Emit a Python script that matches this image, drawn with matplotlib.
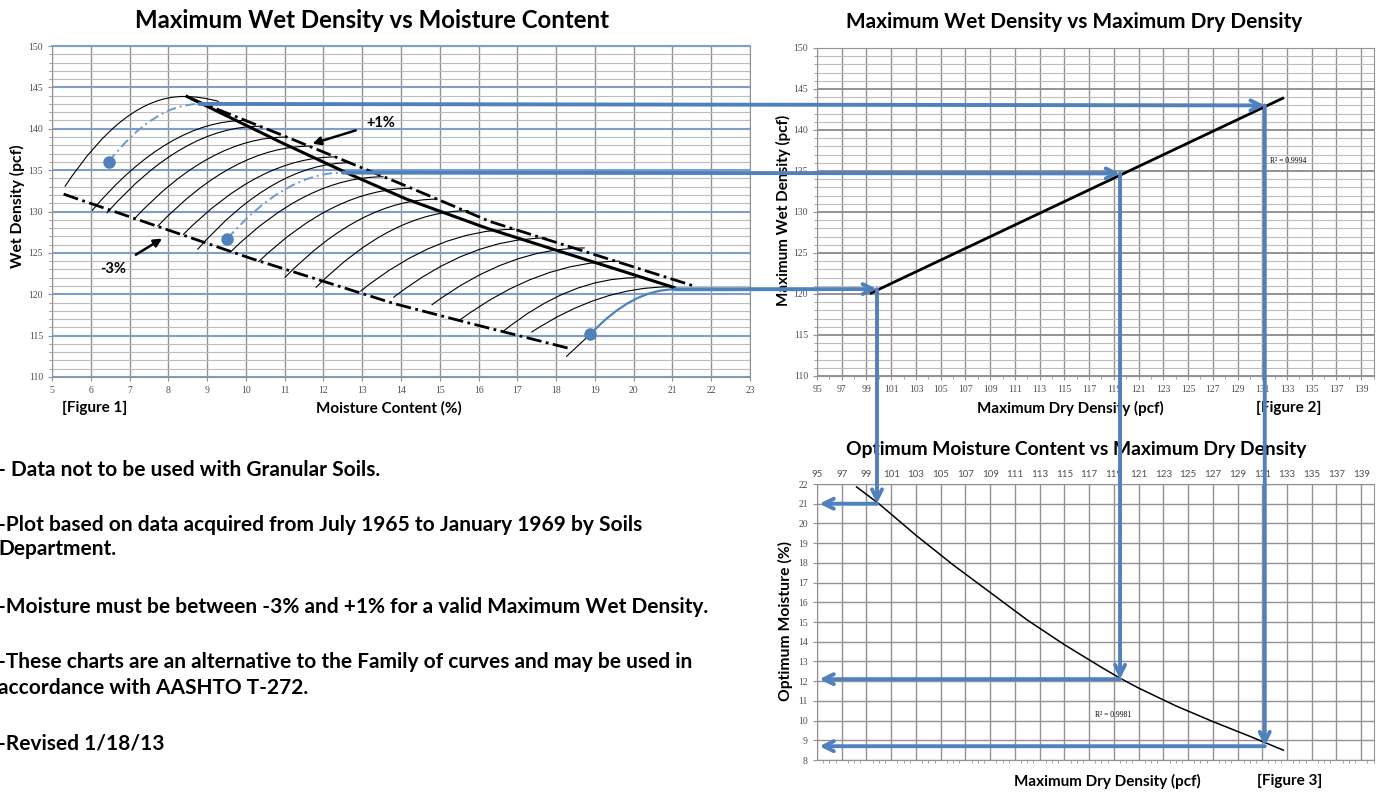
import matplotlib.pyplot as plt
import numpy as np
from matplotlib.path import Path
from matplotlib.patches import PathPatch, ConnectionPatch
from matplotlib.ticker import MultipleLocator

plt.rcParams['font.family'] = ['Lato', 'DejaVu Sans']

W, H = 1377, 795

# ---- Figure 1: family of curves (moisture %, wet density pcf)
curve_start_x = [5.33, 6.03, 6.41, 7.10, 7.72, 8.38, 8.75, 9.60, 10.32, 11.00,
                 11.80, 12.95, 13.80, 14.79, 15.52, 16.63, 17.36]
curve_start_y = [133.0, 130.1, 129.8, 129.0, 128.2, 127.2, 125.4, 125.1, 123.9, 122.0,
                 120.8, 120.35, 119.6, 118.7, 116.9, 115.5, 115.4]
curve_top_x = [8.39, 9.98, 10.36, 11.05, 11.67, 12.33, 12.70, 13.55, 14.27, 14.95,
               15.75, 16.93, 17.75, 18.74, 19.64, 20.07, 20.93]
curve_top_y = [143.9, 141.0, 140.3, 139.0, 137.9, 136.6, 135.9, 134.2, 132.8, 131.5,
               130.1, 127.85, 126.8, 125.6, 124.0, 122.0, 120.9]
curve_end_x = [9.30, 9.98, 10.36, 11.05, 11.67, 12.33, 12.70, 13.55, 14.27, 14.95,
               15.75, 16.93, 17.75, 18.74, 19.64, 20.07, 20.93]
curve_end_y = [143.3, 141.0, 140.3, 139.0, 137.9, 136.6, 135.9, 134.2, 132.8, 131.5,
               130.1, 127.85, 126.8, 125.6, 124.0, 122.0, 120.9]

# line of optimums and the +1% / -3% limits
opt_x = [8.48, 10.93, 12.68, 14.14, 16.2, 21.05]
opt_y = [143.9, 138.3, 134.5, 131.5, 128.0, 120.8]
plus1_x = [8.6, 10.95, 13.97, 16.29, 21.55]
plus1_y = [143.6, 139.2, 133.4, 128.8, 121.0]
minus3_x = [5.3, 10.15, 13.8, 15.77, 18.3]
minus3_y = [132.1, 124.3, 118.9, 116.5, 113.5]

# worked examples (blue)
sample_moist = [6.46, 9.52, 18.88]
sample_wet = [136.0, 126.7, 115.16]
peak_moist = [8.8, 12.5, 21.06]
max_wet = [143.0, 134.7, 120.6]
max_dry = [131.2, 119.5, 99.85]
opt_moist = [8.7, 12.1, 21.0]
lower_curve_x = [18.27, 18.88]
lower_curve_y = [112.5, 115.16]

# ---- Figure 2: max wet vs max dry density
fig2_dry = [99.37, 132.65]
fig2_wet = [120.12, 143.87]

# ---- Figure 3: optimum moisture vs max dry density
fig3_dry = [98.2, 100, 103, 106, 109, 112, 115, 118, 119.5, 121, 124, 127, 130, 132.7]
fig3_omc = [21.85, 21.0, 19.4, 17.9, 16.5, 15.1, 13.85, 12.7, 12.15, 11.65, 10.75, 9.95, 9.2, 8.5]

notes = [
    ("- Data not to be used with Granular Soils.", 470),
    ("-Plot based on data acquired from July 1965 to January 1969 by Soils", 525),
    ("Department.", 549),
    ("-Moisture must be between -3% and +1% for a valid Maximum Wet Density.", 607),
    ("-These charts are an alternative to the Family of curves and may be used in", 662),
    ("accordance with AASHTO T-272.", 688),
    ("-Revised 1/18/13", 743),
]

BLUE = '#4f81bd'
LBLUE = '#6f98cc'
GRAY = '#929292'
LGRAY = '#bdbdbd'
GBLUE = '#7f9fc8'
DASHDOT = (0, (5.5, 1.6, 1.0, 1.6))


def arc(ax, xs, ys, xp, yp, xe, ye, **kw):
    verts = [(xs, ys), ((xs + xp) / 2, yp), (xp, yp)]
    codes = [Path.MOVETO, Path.CURVE3, Path.CURVE3]
    if xe > xp:
        verts += [((xp + xe) / 2, yp), (xe, ye)]
        codes += [Path.CURVE3, Path.CURVE3]
    ax.add_patch(PathPatch(Path(verts, codes), fill=False, **kw))


def fx(x):
    return x / W


def fy(y):
    return 1 - y / H


def style_ticks(ax):
    ax.tick_params(which='both', labelsize=7, labelcolor='#505050', color=GRAY)
    ax.tick_params(which='major', length=3)
    ax.tick_params(which='minor', length=2)
    for lab in ax.get_xticklabels() + ax.get_yticklabels():
        lab.set_family('Liberation Serif')
    for sp in ax.spines.values():
        sp.set_color(GRAY)


fig = plt.figure(figsize=(W / 100, H / 100), dpi=100)

ax1 = fig.add_axes([fx(52), fy(377), 698 / W, 331 / H])
ax2 = fig.add_axes([fx(817), fy(376), 556.6 / W, 328 / H])
ax3 = fig.add_axes([fx(817), fy(760), 556.6 / W, 276 / H])

# ---------- Figure 1
ax1.set_xlim(5, 23)
ax1.set_ylim(110, 150)
ax1.xaxis.set_major_locator(MultipleLocator(1))
ax1.yaxis.set_major_locator(MultipleLocator(5))
ax1.yaxis.set_minor_locator(MultipleLocator(1))
ax1.xaxis.grid(True, which='major', color=GRAY, lw=1)
ax1.yaxis.grid(True, which='minor', color=LGRAY, lw=0.8)
ax1.yaxis.grid(True, which='major', color=GBLUE, lw=1.5)
ax1.set_axisbelow(True)
style_ticks(ax1)
ax1.spines['top'].set_color(GBLUE)
ax1.spines['top'].set_linewidth(1.5)

for i in range(len(curve_start_x)):
    arc(ax1, curve_start_x[i], curve_start_y[i], curve_top_x[i], curve_top_y[i],
        curve_end_x[i], curve_end_y[i], color='black', lw=0.8)
ax1.plot(lower_curve_x, lower_curve_y, color='black', lw=0.8)

ax1.plot(opt_x, opt_y, color='black', lw=2.2)
ax1.plot(plus1_x, plus1_y, color='black', lw=2, linestyle=DASHDOT)
ax1.plot(minus3_x, minus3_y, color='black', lw=2, linestyle=DASHDOT)

for i in range(3):
    if i < 2:
        arc(ax1, sample_moist[i], sample_wet[i], peak_moist[i], max_wet[i],
            peak_moist[i], max_wet[i], color=LBLUE, lw=1.4, linestyle=(0, (5, 2, 1, 2)))
    else:
        arc(ax1, sample_moist[i], sample_wet[i], peak_moist[i], max_wet[i],
            peak_moist[i], max_wet[i], color=BLUE, lw=1.6)
ax1.plot(sample_moist, sample_wet, 'o', color=BLUE, ms=8, zorder=5)

ax1.annotate('', xy=(11.65, 138.1), xytext=(12.9, 139.9),
             arrowprops=dict(arrowstyle='-|>', color='black', lw=1.8, mutation_scale=12))
ax1.text(13.1, 140.2, '+1%', fontsize=10.5, fontweight='bold')
ax1.annotate('', xy=(7.9, 126.9), xytext=(7.1, 124.6),
             arrowprops=dict(arrowstyle='-|>', color='black', lw=1.8, mutation_scale=12))
ax1.text(6.25, 122.6, '-3%', fontsize=10.5, fontweight='bold')

# ---------- Figure 2
ax2.set_xlim(95, 140)
ax2.set_ylim(110, 150)
ax2.set_xticks(np.arange(95, 140, 2))
ax2.xaxis.set_minor_locator(MultipleLocator(1))
ax2.yaxis.set_major_locator(MultipleLocator(5))
ax2.yaxis.set_minor_locator(MultipleLocator(1))
ax2.xaxis.grid(True, which='major', color=GRAY, lw=1)
ax2.yaxis.grid(True, which='minor', color=LGRAY, lw=0.8)
ax2.yaxis.grid(True, which='major', color='#8a8a8a', lw=1.3)
ax2.set_axisbelow(True)
style_ticks(ax2)
ax2.plot(fig2_dry, fig2_wet, color='black', lw=2)
ax2.text(131.6, 136.0, 'R² = 0.9994', fontsize=5.5, family='Liberation Serif')

# ---------- Figure 3
ax3.set_xlim(95, 140)
ax3.set_ylim(8, 22)
ax3.set_xticks(np.arange(95, 140, 2))
ax3.xaxis.set_minor_locator(MultipleLocator(0.5))
ax3.yaxis.set_major_locator(MultipleLocator(1))
ax3.xaxis.grid(True, which='major', color=GRAY, lw=1)
ax3.yaxis.grid(True, which='major', color=GRAY, lw=1)
ax3.set_axisbelow(True)
style_ticks(ax3)
ax3.tick_params(axis='x', which='major', top=True, bottom=False, labeltop=True,
                labelbottom=False, length=0)
ax3.tick_params(axis='x', which='minor', top=False, bottom=True, length=2.5)
ax3.plot(fig3_dry, fig3_omc, color='black', lw=1.1)
ax3.text(117.5, 10.2, 'R² = 0.9981', fontsize=5.5, family='Liberation Serif')

# ---------- blue read-off arrows across the figures
for i in range(3):
    arr = dict(arrowstyle='->', color=BLUE, lw=2.8, mutation_scale=18, zorder=10)
    fig.add_artist(ConnectionPatch((peak_moist[i], max_wet[i]), (max_dry[i], max_wet[i]),
                                   coordsA=ax1.transData, coordsB=ax2.transData, **arr))
    fig.add_artist(ConnectionPatch((max_dry[i], max_wet[i]), (max_dry[i], opt_moist[i]),
                                   coordsA=ax2.transData, coordsB=ax3.transData, **arr))
    fig.add_artist(ConnectionPatch((max_dry[i], opt_moist[i]), (95.2, opt_moist[i]),
                                   coordsA=ax3.transData, coordsB=ax3.transData, **arr))

# ---------- titles and labels
fig.text(fx(372), fy(20), 'Maximum Wet Density vs Moisture Content', ha='center', va='center',
         fontsize=17.3, fontweight='bold')
fig.text(fx(1074), fy(22), 'Maximum Wet Density vs Maximum Dry Density', ha='center',
         va='center', fontsize=15, fontweight='bold')
fig.text(fx(1076), fy(449), 'Optimum Moisture Content vs Maximum Dry Density', ha='center',
         va='center', fontsize=13.9, fontweight='bold')

fig.text(fx(17), fy(206), 'Wet Density (pcf)', rotation=90, ha='center', va='center',
         fontsize=11.3, fontweight='bold')
fig.text(fx(389), fy(408), 'Moisture Content (%)', ha='center', va='center',
         fontsize=11, fontweight='bold')
fig.text(fx(62), fy(408), '[Figure 1]', ha='left', va='center', fontsize=11, fontweight='bold')

fig.text(fx(783), fy(210), 'Maximum Wet Density (pcf)', rotation=90, ha='center', va='center',
         fontsize=11, fontweight='bold')
fig.text(fx(1070), fy(408), 'Maximum Dry Density (pcf)', ha='center', va='center',
         fontsize=11, fontweight='bold')
fig.text(fx(1256), fy(408), '[Figure 2]', ha='left', va='center', fontsize=11, fontweight='bold')

fig.text(fx(785), fy(621), 'Optimum Moisture (%)', rotation=90, ha='center', va='center',
         fontsize=11.3, fontweight='bold')
fig.text(fx(1107), fy(781), 'Maximum Dry Density (pcf)', ha='center', va='center',
         fontsize=11, fontweight='bold')
fig.text(fx(1257), fy(781), '[Figure 3]', ha='left', va='center', fontsize=11, fontweight='bold')

for line, ypos in notes:
    fig.text(fx(-2), fy(ypos), line, ha='left', va='center', fontsize=15, fontweight='bold')

fig.savefig('out.png', dpi=100)
